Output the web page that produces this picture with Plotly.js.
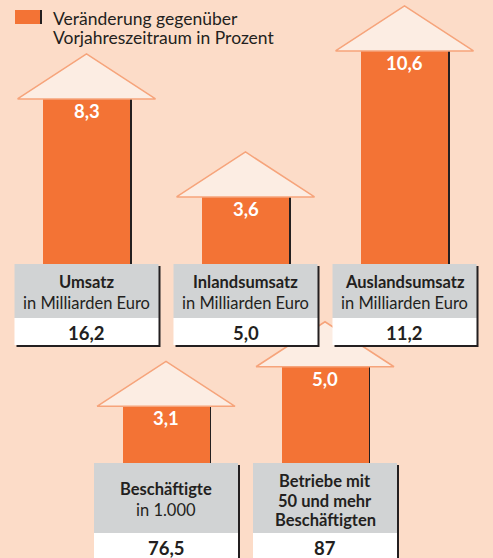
<!DOCTYPE html>
<html>
<head>
<meta charset="utf-8">
<script src="https://cdn.plot.ly/plotly-3.0.1.min.js"></script>
<style>html,body{margin:0;padding:0;background:#FCDCC8;}#chart{width:493px;height:558px;}</style>
</head>
<body>
<div id="chart"></div>
<script>
// ---- data ----
const topCategories = ['Umsatz', 'Inlandsumsatz', 'Auslandsumsatz'];
const topUnits = ['in Milliarden Euro', 'in Milliarden Euro', 'in Milliarden Euro'];
const topChange = [8.3, 3.6, 10.6];          // Veränderung in Prozent
const topLevel = ['16,2', '5,0', '11,2'];

const bottomCategories = ['Beschäftigte', 'Betriebe mit<br>50 und mehr<br>Beschäftigten'];
const bottomUnits = ['in 1.000', ''];
const bottomChange = [3.1, 5.0];
const bottomLevel = ['76,5', '87'];

const legendLines = ['Veränderung gegenüber', 'Vorjahreszeitraum in Prozent'];

// ---- layout constants (pixels) ----
const W = 493, H = 558;
const SLOT = 159, X0 = 86.5;       // slot spacing and first slot centre
const PXU = 20.85;                 // pixels per percent
const BASE_TOP = 264, BASE_BOT = 463;
const BAR_W = 87 / SLOT;
const HEAD_HW = 69 / SLOT, HEAD_BASE = 8 / PXU, HEAD_TIP = 37 / PXU;
const BOX_HW = 72 / SLOT;

const C_BG = '#FCDCC8', C_BAR = '#F37335', C_HEAD = '#FCEDE3', C_HEADLINE = '#F6A47B';
const C_GRAY = '#D1D3D4', C_DARK = '#231F20';
const FONT = 'Lato, "Open Sans", sans-serif';

const topX = topCategories.map((_, i) => i);
const botX = bottomCategories.map((_, i) => i + 0.5);
const fmt = v => v.toFixed(1).replace('.', ',');
const py = p => 1 - p / H;
const pxX = p => (p - X0) / SLOT;

const traces = [];
function addRow(xs, vals, yaxis) {
  xs.forEach((x, i) => {
    const v = vals[i];
    traces.push({
      type: 'scatter', mode: 'lines', xaxis: 'x', yaxis: yaxis,
      x: [x - HEAD_HW, x, x + HEAD_HW, x - HEAD_HW],
      y: [v - HEAD_BASE, v + HEAD_TIP, v - HEAD_BASE, v - HEAD_BASE],
      fill: 'toself', fillcolor: C_HEAD,
      line: {color: C_HEADLINE, width: 1.5}, hoverinfo: 'skip', showlegend: false
    });
  });
  traces.push({
    type: 'bar', xaxis: 'x', yaxis: yaxis,
    x: xs.map(x => x + 1.6 / SLOT), y: vals, width: BAR_W,
    marker: {color: C_DARK}, hoverinfo: 'skip', showlegend: false
  });
  traces.push({
    type: 'bar', xaxis: 'x', yaxis: yaxis,
    x: xs, y: vals, width: BAR_W,
    marker: {color: C_BAR}, hoverinfo: 'skip', showlegend: false
  });
}
addRow(topX, topChange, 'y');
addRow(botX, bottomChange, 'y2');

const shapes = [];
const annotations = [];

// legend
shapes.push({type: 'rect', xref: 'paper', yref: 'paper', x0: 15 / W, x1: 40 / W, y0: py(24), y1: py(10),
  fillcolor: C_BAR, line: {width: 0}, layer: 'above'});
shapes.push({type: 'rect', xref: 'paper', yref: 'paper', x0: 40 / W, x1: 42 / W, y0: py(24), y1: py(10),
  fillcolor: C_DARK, line: {width: 0}, layer: 'above'});
legendLines.forEach((t, k) => {
  annotations.push({xref: 'paper', yref: 'paper', x: 51 / W, y: py(18.5 + 19 * k), xanchor: 'left', yanchor: 'middle',
    text: t, showarrow: false, align: 'left', font: {family: FONT, size: 17.5, color: C_DARK}});
});

function addBoxes(xs, cats, units, levels, change, base, grayH, yaxis, lines) {
  xs.forEach((x, i) => {
    const x0 = x - BOX_HW, x1 = x + BOX_HW;
    const g1 = base + grayH, w1 = base + grayH + 27;
    shapes.push({type: 'rect', xref: 'x', yref: 'paper', x0: x0 + 2 / SLOT, x1: x1 + 2 / SLOT, y0: py(w1 + 2), y1: py(base + 2),
      fillcolor: C_DARK, line: {width: 0}, layer: 'above'});
    shapes.push({type: 'rect', xref: 'x', yref: 'paper', x0: x0, x1: x1, y0: py(g1), y1: py(base),
      fillcolor: C_GRAY, line: {width: 0}, layer: 'above'});
    shapes.push({type: 'rect', xref: 'x', yref: 'paper', x0: x0, x1: x1, y0: py(w1), y1: py(g1),
      fillcolor: '#FFFFFF', line: {width: 0}, layer: 'above'});
    // category label lines
    const parts = cats[i].split('<br>');
    const ls = lines(parts.length, units[i] !== '');
    parts.forEach((t, k) => {
      annotations.push({xref: 'x', yref: 'paper', x: x, y: py(ls[k]), xanchor: 'center', yanchor: 'middle',
        text: '<b>' + t + '</b>', showarrow: false, font: {family: FONT, size: 16.5, color: C_DARK}});
    });
    if (units[i] !== '') {
      annotations.push({xref: 'x', yref: 'paper', x: x, y: py(ls[parts.length]), xanchor: 'center', yanchor: 'middle',
        text: units[i], showarrow: false, font: {family: FONT, size: 16.5, color: C_DARK}});
    }
    annotations.push({xref: 'x', yref: 'paper', x: x, y: py(g1 + 14.5), xanchor: 'center', yanchor: 'middle',
      text: '<b>' + levels[i] + '</b>', showarrow: false, font: {family: FONT, size: 18.5, color: C_DARK}});
    // change value in the bar
    annotations.push({xref: 'x', yref: yaxis, x: x, y: change[i], xanchor: 'center', yanchor: 'top', yshift: -7,
      text: '<b>' + fmt(change[i]) + '</b>', showarrow: false, font: {family: FONT, size: 18.5, color: '#FFFFFF'}});
  });
}
addBoxes(topX, topCategories, topUnits, topLevel, topChange, BASE_TOP, 54, 'y',
  () => [BASE_TOP + 17.5, BASE_TOP + 38.5]);
addBoxes(botX, bottomCategories, bottomUnits, bottomLevel, bottomChange, BASE_BOT, 70, 'y2',
  (n, hasUnit) => hasUnit ? [BASE_BOT + 25.5, BASE_BOT + 46.5] : [BASE_BOT + 17.5, BASE_BOT + 37.5, BASE_BOT + 56.5]);

const layout = {
  width: W, height: H,
  margin: {l: 0, r: 0, t: 0, b: 0},
  paper_bgcolor: C_BG, plot_bgcolor: C_BG,
  barmode: 'overlay', bargap: 0,
  showlegend: false,
  xaxis: {range: [pxX(0), pxX(W)], visible: false, fixedrange: true},
  yaxis: {range: [-(H - BASE_TOP) / PXU, BASE_TOP / PXU], visible: false, fixedrange: true},
  yaxis2: {range: [-(H - BASE_BOT) / PXU, BASE_BOT / PXU], visible: false, overlaying: 'y', fixedrange: true},
  shapes: shapes,
  annotations: annotations
};

Plotly.newPlot('chart', traces, layout, {displayModeBar: false, staticPlot: true});
</script>
</body>
</html>
